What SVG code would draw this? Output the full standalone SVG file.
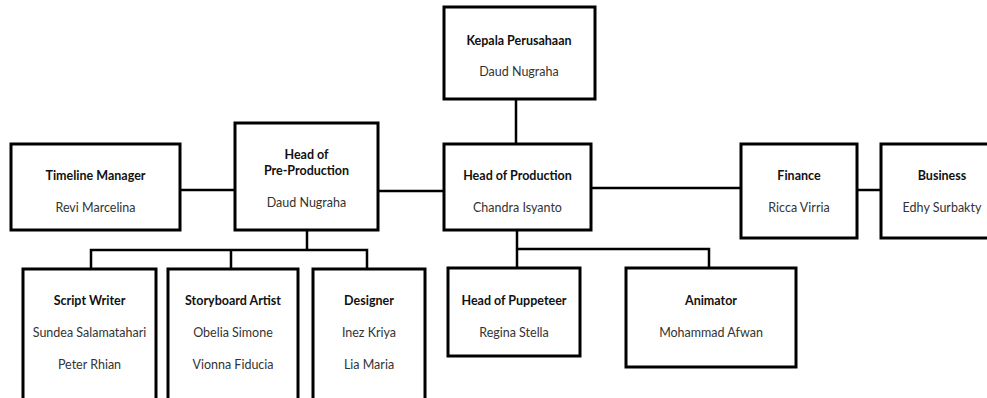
<svg xmlns="http://www.w3.org/2000/svg" width="987" height="398" viewBox="0 0 987 398">
<style>
.box{fill:#fff;stroke:#000;stroke-width:3}
.t{font-family:Lato,"Noto Sans",sans-serif;font-size:12.5px;font-weight:bold;fill:#111;text-anchor:middle}
.n{font-family:Lato,"Noto Sans",sans-serif;font-size:12.5px;fill:#333;text-anchor:middle}
.c{fill:none;stroke:#000;stroke-width:2.5}
</style>
<rect width="987" height="398" fill="#fff"/>
<g id="connectors">
<path class="c" d="M516 99V144"/>
<path class="c" d="M180 190H235"/>
<path class="c" d="M378 191H444"/>
<path class="c" d="M591 188H741"/>
<path class="c" d="M857 190H881"/>
<path class="c" d="M307 230V250M91 269V250H367V269M231 250V269"/>
<path class="c" d="M517 230V249H709V268M517 249V268"/>
</g>
<g id="kepala">
<rect class="box" x="444" y="7" width="151" height="92"/>
<text class="t" x="519" y="45">Kepala Perusahaan</text>
<text class="n" x="519" y="76">Daud Nugraha</text>
</g>
<g id="timeline">
<rect class="box" x="11" y="144" width="169" height="86"/>
<text class="t" x="95.5" y="179.5">Timeline Manager</text>
<text class="n" x="95.5" y="212">Revi Marcelina</text>
</g>
<g id="preprod">
<rect class="box" x="235" y="123" width="143" height="107"/>
<text class="t" x="306.5" y="159">Head of</text>
<text class="t" x="306.5" y="174.5">Pre-Production</text>
<text class="n" x="306.5" y="207">Daud Nugraha</text>
</g>
<g id="production">
<rect class="box" x="444" y="144" width="147" height="86"/>
<text class="t" x="517.5" y="179.5">Head of Production</text>
<text class="n" x="517.5" y="212">Chandra Isyanto</text>
</g>
<g id="finance">
<rect class="box" x="741" y="144" width="116" height="94"/>
<text class="t" x="799" y="179.5">Finance</text>
<text class="n" x="799" y="212">Ricca Virria</text>
</g>
<g id="business">
<rect class="box" x="881" y="144" width="122" height="94"/>
<text class="t" x="942" y="179.5">Business</text>
<text class="n" x="942" y="212">Edhy Surbakty</text>
</g>
<g id="scriptwriter">
<rect class="box" x="23" y="269" width="133" height="145"/>
<text class="t" x="89.5" y="305">Script Writer</text>
<text class="n" x="89.5" y="337">Sundea Salamatahari</text>
<text class="n" x="89.5" y="368.5">Peter Rhian</text>
</g>
<g id="storyboard">
<rect class="box" x="168" y="269" width="130" height="145"/>
<text class="t" x="233" y="305">Storyboard Artist</text>
<text class="n" x="233" y="337">Obelia Simone</text>
<text class="n" x="233" y="368.5">Vionna Fiducia</text>
</g>
<g id="designer">
<rect class="box" x="313" y="269" width="112" height="145"/>
<text class="t" x="369" y="305">Designer</text>
<text class="n" x="369" y="337">Inez Kriya</text>
<text class="n" x="369" y="368.5">Lia Maria</text>
</g>
<g id="puppeteer">
<rect class="box" x="448" y="268" width="132" height="88"/>
<text class="t" x="514" y="305">Head of Puppeteer</text>
<text class="n" x="514" y="337">Regina Stella</text>
</g>
<g id="animator">
<rect class="box" x="626" y="268" width="170" height="99"/>
<text class="t" x="711" y="305">Animator</text>
<text class="n" x="711" y="337">Mohammad Afwan</text>
</g>
</svg>
